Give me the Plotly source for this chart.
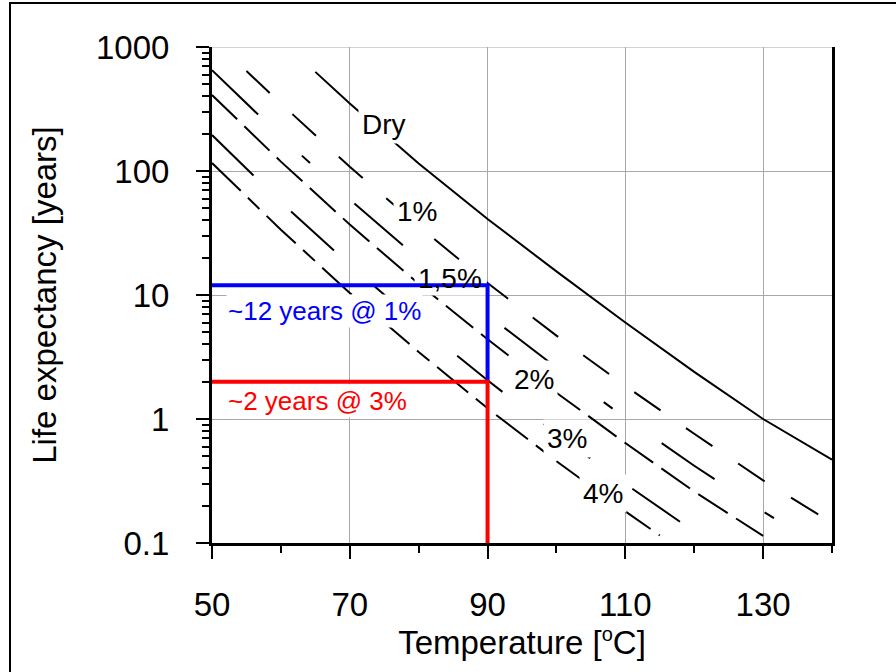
import math
import plotly.graph_objects as go

# ---- data ----
temps_dry = [65, 70, 80, 90, 100, 110, 120, 130, 140]
life_dry = [630, 350, 115, 41, 15.5, 6.0, 2.4, 1.0, 0.47]

temps_1 = [55, 60, 70, 80, 90, 100, 110, 120, 130, 138]
life_1 = [640, 350, 108, 36, 12.5, 4.7, 1.85, 0.76, 0.32, 0.17]

temps_15 = [50, 60, 70, 80, 90, 100, 110, 120, 130, 132.7]
life_15 = [650, 190, 59, 19.6, 6.9, 2.6, 1.02, 0.42, 0.18, 0.145]

temps_2 = [50, 60, 70, 80, 90, 100, 110, 120, 130]
life_2 = [410, 119, 37, 12.3, 4.4, 1.63, 0.64, 0.26, 0.114]

temps_3 = [50, 60, 70, 80, 90, 100, 110, 119]
life_3 = [195, 56, 17.5, 5.8, 2.05, 0.76, 0.30, 0.135]

temps_4 = [50, 60, 70, 80, 90, 100, 110, 115]
life_4 = [116, 33.6, 10.4, 3.47, 1.22, 0.457, 0.18, 0.115]

series_labels = ["Dry", "1%", "1,5%", "2%", "3%", "4%"]
label_T = [74.9, 79.7, 84.5, 96.7, 101.6, 106.7]
label_life = [235, 47.5, 13.5, 2.07, 0.69, 0.253]

guide_T = 90
blue_life = 12
red_life = 2
blue_text = "~12 years @ 1%"
red_text = "~2 years @ 3%"

x_ticks = [50, 70, 90, 110, 130]
y_ticks = [0.1, 1, 10, 100, 1000]
y_tick_text = ["0.1", "1", "10", "100", "1000"]

FONT = "Liberation Sans, Arial, sans-serif"

series = [
    (temps_dry, life_dry, "solid"),
    (temps_1, life_1, "32px,31px"),
    (temps_15, life_15, "64px,60px,11px,60px"),
    (temps_2, life_2, "35px,10px"),
    (temps_3, life_3, "58px,52px"),
    (temps_4, life_4, "40px,10px,16px,10px"),
]

fig = go.Figure()
for (t, l, dash), name in zip(series, series_labels):
    fig.add_trace(go.Scatter(x=t, y=l, mode="lines", name=name,
                             line=dict(color="black", width=2, dash=dash),
                             showlegend=False, hoverinfo="skip"))

W, H = 896, 672
L, R, T, B = 212, 64, 47, 129
pw, ph = W - L - R, H - T - B

def px_x(p):
    return (p - L) / pw

def px_y(p):
    return (H - B - p) / ph

shapes = [
    # top grid line at 1000
    dict(type="line", xref="paper", yref="y", layer="below",
         x0=0, x1=1, y0=1000, y1=1000, line=dict(color="#a8a8a8", width=1)),
    # white mask behind the "1,5%" label (the blue guide is drawn over it)
    dict(type="rect", xref="x", yref="y", layer="above",
         x0=79.4, x1=89.9, y0=9.9, y1=16.8,
         fillcolor="white", line=dict(width=0)),
    dict(type="path", xref="x", yref="y", layer="above",
         path=f"M 49.4 {blue_life} L {guide_T} {blue_life} L {guide_T} {red_life}",
         line=dict(color="#0000FF", width=4)),
    dict(type="path", xref="x", yref="y", layer="above",
         path=f"M 49.4 {red_life} L {guide_T} {red_life} L {guide_T} 0.1",
         line=dict(color="#FF0000", width=4)),
    # outer frame
    dict(type="rect", xref="paper", yref="paper", layer="above",
         x0=px_x(10), x1=px_x(899), y0=px_y(676), y1=px_y(3),
         line=dict(color="black", width=2), fillcolor="rgba(0,0,0,0)"),
]

annotations = []
for txt, xt, yl in zip(series_labels, label_T, label_life):
    annotations.append(dict(x=xt, y=math.log10(yl), xref="x", yref="y",
                            text=txt, showarrow=False,
                            font=dict(family=FONT, size=28, color="black"),
                            bgcolor="rgba(0,0,0,0)" if txt == "1,5%" else "white",
                            borderpad=3))
annotations.append(dict(x=52.1, y=math.log10(7.4), xref="x", yref="y",
                        text=blue_text, showarrow=False, xanchor="left",
                        font=dict(family=FONT, size=26, color="#0000FF"),
                        bgcolor="white", borderpad=1))
annotations.append(dict(x=52.1, y=math.log10(1.40), xref="x", yref="y",
                        text=red_text, showarrow=False, xanchor="left",
                        font=dict(family=FONT, size=26, color="#FF0000"),
                        bgcolor="white", borderpad=1))

fig.update_layout(
    width=W, height=H,
    margin=dict(l=L, r=R, t=T, b=B, autoexpand=False),
    paper_bgcolor="white", plot_bgcolor="white",
    font=dict(family=FONT, size=33, color="black"),
    shapes=shapes, annotations=annotations,
)

fig.update_xaxes(
    range=[50, 140], tickmode="array", tickvals=x_ticks,
    ticks="outside", ticklen=13, tickwidth=2, tickcolor="black",
    showline=True, linecolor="black", linewidth=3,
    showgrid=True, gridcolor="#a8a8a8", gridwidth=1,
    zeroline=False, ticklabelstandoff=17,
    minor=dict(tickvals=[60, 80, 100, 120, 140], ticks="outside", ticklen=7,
               tickwidth=2, tickcolor="black", showgrid=False),
    title=dict(text="Temperature [<sup><span style='font-size:20px'>o</span></sup>C]",
               standoff=2, font=dict(family=FONT, size=33)),
    tickfont=dict(family=FONT, size=33),
)

minor_y = [k * 10 ** e for e in range(-1, 3) for k in range(2, 10)]
fig.update_yaxes(
    type="log", range=[-1, 3], tickmode="array", tickvals=y_ticks, ticktext=y_tick_text,
    ticks="outside", ticklen=13, tickwidth=2, tickcolor="black",
    showline=True, linecolor="black", linewidth=3, mirror=True,
    showgrid=True, gridcolor="#a8a8a8", gridwidth=1,
    zeroline=False, ticklabelstandoff=20,
    minor=dict(tickvals=minor_y, ticks="outside", ticklen=7,
               tickwidth=2, tickcolor="black", showgrid=False),
    title=dict(text="Life expectancy [years]", standoff=30,
               font=dict(family=FONT, size=33)),
    tickfont=dict(family=FONT, size=33),
)

fig.write_html("out.html", config={"displayModeBar": False},
               post_script="document.body.style.margin='0px';")
